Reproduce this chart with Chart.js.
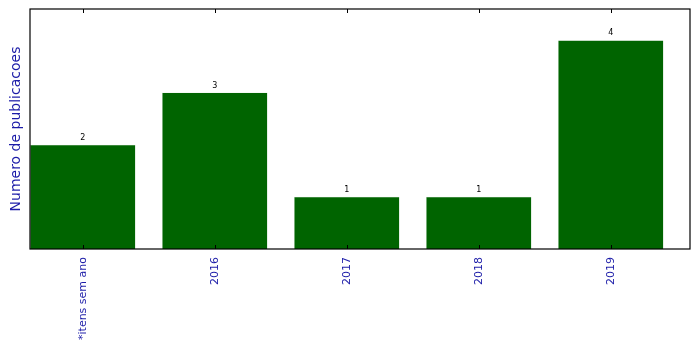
<!DOCTYPE html>
<html>
<head>
<meta charset="utf-8">
<script src="https://cdn.jsdelivr.net/npm/chart.js@4"></script>
<style>
  html, body { margin: 0; padding: 0; background: #fff; }
  #wrap { width: 699px; height: 349px; }
</style>
</head>
<body>
<div id="wrap"><canvas id="pubs" width="699" height="349"></canvas></div>
<script>
// categories and values
const categories = ['*itens sem ano', '2016', '2017', '2018', '2019'];
const counts = [2, 3, 1, 1, 4];
const yMax = 4.6;

const labelBlue = '#1c1ca8';

// frame + inward ticks, like the matplotlib axes box
const frame = {
    id: 'frame',
    afterDatasetsDraw(chart) {
        const { ctx, chartArea: a } = chart;
        const x = chart.scales.x;
        ctx.save();
        ctx.strokeStyle = '#000';
        ctx.lineWidth = 1;
        ctx.beginPath();
        categories.forEach((c, i) => {
            const px = Math.round(x.getPixelForValue(i)) + 0.5;
            ctx.moveTo(px, a.bottom); ctx.lineTo(px, a.bottom - 4);
            ctx.moveTo(px, a.top); ctx.lineTo(px, a.top + 4);
        });
        ctx.stroke();
        ctx.lineWidth = 1.2;
        ctx.strokeRect(a.left, a.top, a.right - a.left, a.bottom - a.top);
        ctx.restore();
    }
};

// value labels on top of the bars
const valueLabels = {
    id: 'valueLabels',
    afterDatasetsDraw(chart) {
        const { ctx } = chart;
        const meta = chart.getDatasetMeta(0);
        ctx.save();
        ctx.fillStyle = '#000';
        ctx.font = '8px "DejaVu Sans"';
        ctx.textAlign = 'center';
        ctx.textBaseline = 'bottom';
        meta.data.forEach((bar, i) => {
            ctx.fillText(String(counts[i]), bar.x, bar.y - 3);
        });
        ctx.restore();
    }
};

new Chart('pubs', {
    type: 'bar',
    data: {
        datasets: [{
            data: counts.map((v, i) => ({ x: i, y: v })),
            backgroundColor: '#006400',
            borderColor: '#d8e8d8',
            borderWidth: 0.5,
            categoryPercentage: 1,
            barPercentage: 0.8
        }]
    },
    options: {
        responsive: false,
        animation: false,
        layout: { padding: { top: 9, right: 9, left: 0, bottom: 0 } },
        plugins: {
            legend: { display: false },
            tooltip: { enabled: false }
        },
        scales: {
            x: {
                type: 'linear',
                offset: false,
                min: -0.4,
                max: 4.6,
                border: { display: false },
                grid: { display: false },
                afterBuildTicks: (scale) => {
                    scale.ticks = categories.map((c, i) => ({ value: i }));
                },
                afterFit: (scale) => { scale.height = 100; },
                ticks: {
                    autoSkip: false,
                    minRotation: 90,
                    maxRotation: 90,
                    padding: 0,
                    color: labelBlue,
                    font: { family: 'DejaVu Sans', size: 11 },
                    callback: (v) => categories[v]
                }
            },
            y: {
                min: 0,
                max: yMax,
                border: { display: false },
                grid: { display: false },
                ticks: { display: false },
                afterFit: (scale) => { scale.width = 30; },
                title: {
                    display: true,
                    text: 'Numero de publicacoes',
                    color: labelBlue,
                    font: { family: 'DejaVu Sans', size: 14 },
                    padding: { top: 8, bottom: 4 }
                }
            }
        }
    },
    plugins: [frame, valueLabels]
});
</script>
</body>
</html>
